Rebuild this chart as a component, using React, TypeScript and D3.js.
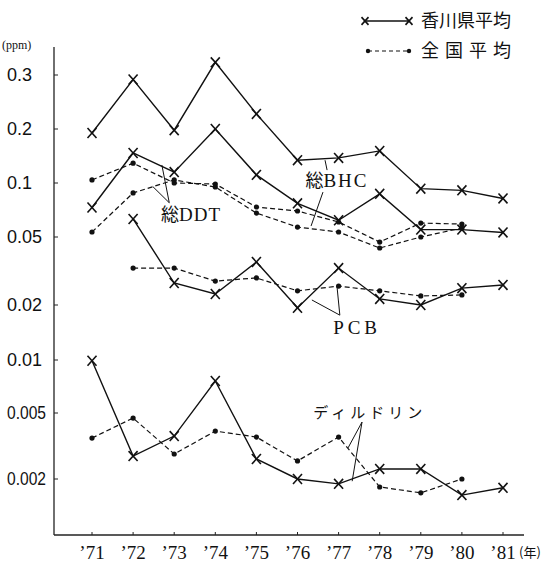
import React from 'react';
import * as d3 from 'd3';

// years on the x axis ('71 - '81)
const years = [71, 72, 73, 74, 75, 76, 77, 78, 79, 80, 81];
const yTicks = [0.3, 0.2, 0.1, 0.05, 0.02, 0.01, 0.005, 0.002];
const yTickLabels = ['0.3', '0.2', '0.1', '0.05', '0.02', '0.01', '0.005', '0.002'];

// 香川県平均 (solid, x markers)
const bhcKagawa = [0.19, 0.29, 0.197, 0.33, 0.224, 0.134, 0.138, 0.151, 0.093, 0.091, 0.082];
const ddtKagawa = [0.073, 0.147, 0.115, 0.2, 0.111, 0.077, 0.062, 0.087, 0.055, 0.055, 0.053];
const pcbKagawa = [null, 0.063, 0.0269, 0.0232, 0.0357, 0.0193, 0.0329, 0.0217, 0.02, 0.0251, 0.0262];
const dieldrinKagawa = [0.0099, 0.00275, 0.00363, 0.0076, 0.00264, 0.002, 0.00187, 0.0023, 0.0023, 0.0016, 0.00177];

// 全国平均 (dashed, dots)
const bhcNational = [0.104, 0.129, 0.1, 0.0987, 0.0735, 0.0698, 0.0606, 0.0467, 0.0598, 0.059, null];
const ddtNational = [0.0533, 0.088, 0.104, 0.095, 0.068, 0.0568, 0.0533, 0.0431, 0.05, 0.0561, null];
const pcbNational = [null, 0.0329, 0.0329, 0.0276, 0.0288, 0.0242, 0.0258, 0.0242, 0.0226, 0.0229, null];
const dieldrinNational = [0.00353, 0.00466, 0.00283, 0.00389, 0.00358, 0.00257, 0.00358, 0.00179, 0.00165, 0.002, null];

const kagawaSeries = [bhcKagawa, ddtKagawa, pcbKagawa, dieldrinKagawa];
const nationalSeries = [bhcNational, ddtNational, pcbNational, dieldrinNational];

// annotation labels (kanji part + latin part) and leader lines, in [year, value]
const labels = [
  { kanji: '総', latin: 'DDT', at: [73.41, 0.0663], spacing: 1 },
  { kanji: '総', latin: 'BHC', at: [76.96, 0.1026], spacing: 2 },
  { kanji: '', latin: 'PCB', at: [77.45, 0.0148], spacing: 4 },
];
const leaders = [
  [[72.7, 0.126], [72.88, 0.0776]],
  [[72.48, 0.0955], [72.88, 0.0776]],
  [[76.67, 0.134], [76.72, 0.118]],
  [[76.62, 0.089], [76.33, 0.0576]],
  [[76.35, 0.0214], [77.03, 0.0176], [76.96, 0.0258]],
  [[77.33, 0.00194], [77.57, 0.00441], [77.23, 0.00308]],
];

const W = 543;
const H = 563;
const axisX = 54;
const axisY = 535;

const x = d3.scaleLinear().domain([71, 81]).range([92, 503]);
// the original's grid is hand drawn: log spacing per segment
const y = d3.scaleLog()
  .domain([0.002, 0.005, 0.01, 0.02, 0.05, 0.1, 0.2, 0.3])
  .range([479, 413, 360, 305, 237, 183, 129, 75]);

const line = d3.line<number | null>()
  .defined(d => d != null)
  .x((d, i) => x(years[i]))
  .y(d => y(d as number));

const leaderLine = d3.line<number[]>().x(d => x(d[0])).y(d => y(d[1]));

const Cross = ({ cx, cy, s = 4.5 }: { cx: number; cy: number; s?: number }) => (
  <g stroke="#111" strokeWidth={1.6}>
    <line x1={cx - s} y1={cy - s * 1.1} x2={cx + s} y2={cy + s * 1.1} />
    <line x1={cx + s} y1={cy - s * 1.1} x2={cx - s} y2={cy + s * 1.1} />
  </g>
);

const serif = '"Liberation Serif", "DejaVu Serif", serif';
const sans = '"Liberation Sans", Arial, sans-serif';
const jp = '"Noto Sans CJK JP", sans-serif';

export default function App() {
  return (
    <svg width={W} height={H} style={{ position: 'absolute', left: 0, top: 0, background: '#fff' }}>
      {/* axes */}
      <line x1={axisX} y1={47} x2={axisX} y2={axisY} stroke="#222" strokeWidth={1.3} />
      <line x1={axisX} y1={axisY} x2={524} y2={axisY} stroke="#222" strokeWidth={1.3} />
      <text x={2} y={49} fontFamily={serif} fontSize={12} fill="#111">(ppm)</text>
      {yTicks.map((t, i) => (
        <g key={t}>
          <line x1={axisX} x2={axisX + 4} y1={y(t)} y2={y(t)} stroke="#222" strokeWidth={1} />
          <text x={7} y={y(t)} dy="0.36em" fontFamily={sans} fontSize={18} fill="#111"
            textLength={yTickLabels[i].length > 4 ? 39 : undefined}
            lengthAdjust="spacingAndGlyphs">
            {yTickLabels[i]}
          </text>
        </g>
      ))}
      {years.map(yr => (
        <g key={yr}>
          <line x1={x(yr)} x2={x(yr)} y1={axisY} y2={axisY - 3} stroke="#222" strokeWidth={1} />
          <text x={x(yr)} y={559} textAnchor="middle" fontFamily={serif} fontSize={19} fill="#111">
            {'’' + yr}
          </text>
        </g>
      ))}
      <text x={519} y={557} fontFamily={jp} fontSize={13} fill="#111">(年)</text>

      {/* national averages */}
      {nationalSeries.map((s, k) => (
        <g key={'n' + k}>
          <path d={line(s) || ''} fill="none" stroke="#111" strokeWidth={1.2} strokeDasharray="5,3" />
          {s.map((v, i) => v == null ? null : (
            <circle key={i} cx={x(years[i])} cy={y(v)} r={2.6} fill="#111" />
          ))}
        </g>
      ))}

      {/* Kagawa averages */}
      {kagawaSeries.map((s, k) => (
        <g key={'k' + k}>
          <path d={line(s) || ''} fill="none" stroke="#111" strokeWidth={1.4} />
          {s.map((v, i) => v == null ? null : <Cross key={i} cx={x(years[i])} cy={y(v)} />)}
        </g>
      ))}

      {/* annotations */}
      {leaders.map((l, i) => (
        <path key={'l' + i} d={leaderLine(l) || ''} fill="none" stroke="#111" strokeWidth={1} />
      ))}
      {labels.map(l => (
        <text key={l.latin} x={x(l.at[0])} y={y(l.at[1])} dy="0.35em" textAnchor="middle" fill="#111">
          {l.kanji && <tspan fontFamily={jp} fontSize={18}>{l.kanji}</tspan>}
          <tspan fontFamily={serif} fontSize={19} letterSpacing={l.spacing}>{l.latin}</tspan>
        </text>
      ))}
      <text x={x(77.76)} y={y(0.005)} dy="0.35em" textAnchor="middle" fontFamily={jp} fontSize={15}
        letterSpacing={4} fill="#111">ディルドリン</text>

      {/* legend */}
      <line x1={365} x2={409} y1={21} y2={21} stroke="#111" strokeWidth={1.4} />
      <Cross cx={365} cy={21} s={3.5} />
      <Cross cx={409} cy={21} s={3.5} />
      <text x={421} y={21} dy="0.35em" fontFamily={jp} fontSize={18} fill="#111">香川県平均</text>
      <line x1={368} x2={409} y1={51} y2={51} stroke="#111" strokeWidth={1.2} strokeDasharray="4,3" />
      <circle cx={368} cy={51} r={2.2} fill="#111" />
      <circle cx={409} cy={51} r={2.2} fill="#111" />
      <text x={421} y={51} dy="0.35em" fontFamily={jp} fontSize={18} letterSpacing={6} fill="#111">全国平均</text>
    </svg>
  );
}
